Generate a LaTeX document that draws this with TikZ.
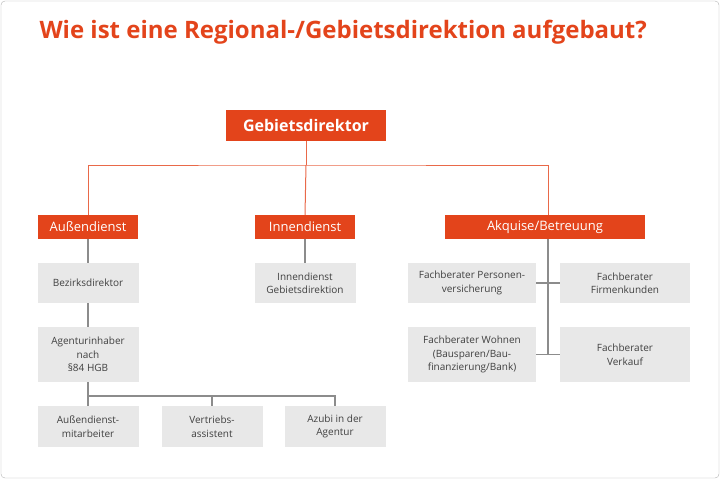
\documentclass[tikz,border=0pt]{standalone}
\usepackage{fontspec}
\setmainfont{Open Sans}
\usetikzlibrary{positioning}
\definecolor{rot}{HTML}{E3441B}
\definecolor{grau}{HTML}{E8E8E8}
\definecolor{linie}{HTML}{8C8C8C}
\begin{document}
\begin{tikzpicture}[x=1pt,y=-1pt,
    kopf/.style={fill=rot,text=white,inner sep=0pt,font=\fontsize{13}{15}\selectfont},
    box/.style={fill=grau,text=black!75,inner sep=0pt,align=center,font=\fontsize{10}{13.5}\selectfont},
    rotlinie/.style={draw=rot!80,line width=1pt},
    graulinie/.style={draw=linie,line width=1.2pt}]
  \useasboundingbox (0,0) rectangle (720,479);
  \draw[black!30,rounded corners=4pt] (1,1) rectangle (719,478);
  \node[anchor=west,text=rot,font=\fontsize{24}{28}\selectfont\bfseries] (titel) at (36,32)
    {Wie ist eine Regional-/Gebietsdirektion aufgebaut?};
  % Kopfzeile
  \node[kopf,minimum width=160,minimum height=31,font=\fontsize{16}{18}\selectfont\bfseries] (gd) at (306,125.5) {Gebietsdirektor};
  \node[kopf,minimum width=100,minimum height=24] (ad) at (88,227) {Außendienst};
  \node[kopf,minimum width=100,minimum height=24] (id) at (305,227) {Innendienst};
  \node[kopf,minimum width=200,minimum height=24] (ak) at (545,227) {Akquise/Betreuung};
  % Außendienst
  \node[box,minimum width=101,minimum height=40] (bd) at (88,283) {Bezirksdirektor};
  \node[box,minimum width=101,minimum height=55] (ai) at (88,354.5) {Agenturinhaber\\nach\\§84 HGB};
  \node[box,minimum width=101,minimum height=41] (am) at (88,426.5) {Außendienst-\\mitarbeiter};
  \node[box,minimum width=101,minimum height=41] (va) at (212,426.5) {Vertriebs-\\assistent};
  \node[box,minimum width=101,minimum height=41] (az) at (335,426.5) {Azubi in der\\Agentur};
  % Innendienst
  \node[box,minimum width=101,minimum height=40] (ig) at (305,283) {Innendienst\\Gebietsdirektion};
  % Akquise
  \node[box,minimum width=128,minimum height=40] (fp) at (472,283) {Fachberater Personen-\\versicherung};
  \node[box,minimum width=130,minimum height=40] (ff) at (625,283) {Fachberater\\Firmenkunden};
  \node[box,minimum width=128,minimum height=55] (fw) at (472,354.5) {Fachberater Wohnen\\(Bausparen/Bau-\\finanzierung/Bank)};
  \node[box,minimum width=130,minimum height=55] (fv) at (625,354.5) {Fachberater\\Verkauf};
  % Verbindungen
  \coordinate (oben) at (306,165);
  \draw[rotlinie] (gd.south) -- (oben);
  \draw[rotlinie] (ad.north) |- (oben) -| (ak.north-|548,0);
  \draw[rotlinie] (oben) -- (id.north);
  \draw[graulinie] (ad) -- (bd);
  \draw[graulinie] (bd) -- (ai);
  \draw[graulinie] (id) -- (ig);
  \coordinate (unten) at (88,396);
  \draw[graulinie] (ai.south) -- (am.north);
  \draw[graulinie] (unten) -| (va.north);
  \draw[graulinie] (unten) -| (az.north);
  \coordinate (mitte) at (548,239);
  \draw[graulinie] (mitte) -- (548,355);
  \draw[graulinie] (fp.east) -- (ff.west);
  \draw[graulinie] (fw.east) -- (fv.west);
\end{tikzpicture}
\end{document}
